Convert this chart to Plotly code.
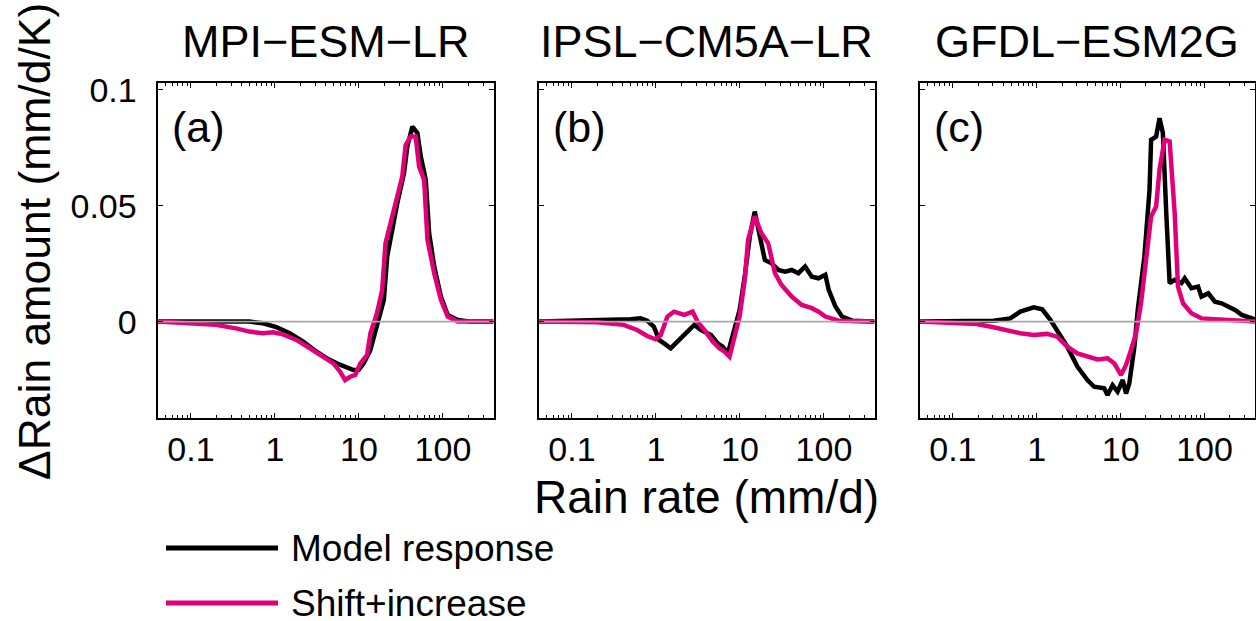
import math
import plotly.graph_objects as go

# ---------------- data (rain rate in mm/d, change in rain amount in mm/d/K) ----------------
titles = ["MPI\u2212ESM\u2212LR", "IPSL\u2212CM5A\u2212LR", "GFDL\u2212ESM2G"]
panel_labels = ["(a)", "(b)", "(c)"]
series_names = ["Model response", "Shift+increase"]

rate_a_model = [0.04, 0.2, 0.5, 0.72, 1.04, 1.5, 2.17, 3.13, 4.13, 5.44, 7.18, 8.63, 9.91, 11.4, 13.7,
                16.4, 19.8, 21.7, 23.8, 28.6, 34.4, 37.7, 43.3, 49.7, 54.5, 62.5, 68.5, 78.7, 94.6, 114,
                150, 217, 400]
amt_a_model = [0, 0, 0, -0.0007, -0.0024, -0.0050, -0.0086, -0.0130, -0.0158, -0.0180, -0.0199, -0.0209,
               -0.0209, -0.0180, -0.0122, -0.0022, 0.0094, 0.0281, 0.0367, 0.0511, 0.0641, 0.0756, 0.0842,
               0.0814, 0.0713, 0.0612, 0.0382, 0.0238, 0.0108, 0.0029, 0.0007, 0, 0]

rate_a_shift = [0.04, 0.198, 0.344, 0.497, 0.718, 0.946, 1.25, 1.80, 2.61, 3.77, 4.97, 5.97, 6.85, 7.87,
                9.04, 10.4, 12.5, 13.7, 16.4, 18.9, 20.7, 23.8, 28.6, 32.8, 36.0, 41.3, 47.4, 52.0, 59.7,
                65.5, 78.7, 94.6, 114, 150, 400]
amt_a_shift = [0, -0.0014, -0.0029, -0.0043, -0.0050, -0.0046, -0.0055, -0.0079, -0.0115, -0.0151, -0.0180,
               -0.0216, -0.0252, -0.0238, -0.0230, -0.0180, -0.0144, -0.0050, 0.0036, 0.0137, 0.0338, 0.0425,
               0.0540, 0.0626, 0.0763, 0.0799, 0.0799, 0.0670, 0.0612, 0.0353, 0.0209, 0.0094, 0.0022, 0, 0]

rate_b_model = [0.04, 0.2, 0.5, 0.655, 0.787, 0.946, 1.09, 1.25, 1.50, 1.80, 2.38, 2.86, 3.44, 4.53, 5.44,
                6.25, 7.18, 8.63, 9.91, 11.4, 13.1, 15.0, 16.4, 18.0, 19.8, 23.8, 28.6, 34.4, 41.3, 49.7,
                59.7, 71.8, 86.3, 104, 114, 137, 164, 217, 400]
amt_b_model = [0, 0.0004, 0.0010, 0.0014, 0.0004, -0.0022, -0.0079, -0.0094, -0.0115, -0.0086, -0.0043,
               -0.0014, -0.0036, -0.0058, -0.0094, -0.0108, -0.0137, -0.0036, 0.0050, 0.0194, 0.0367, 0.0475,
               0.0410, 0.0353, 0.0266, 0.0252, 0.0223, 0.0216, 0.0223, 0.0209, 0.0238, 0.0194, 0.0187, 0.0202,
               0.0137, 0.0065, 0.0022, 0.0004, 0]

rate_b_shift = [0.04, 0.198, 0.413, 0.597, 0.787, 0.991, 1.14, 1.37, 1.64, 2.17, 2.73, 3.13, 3.77, 4.74,
                5.70, 6.55, 7.52, 9.04, 9.91, 11.4, 12.5, 15.0, 18.0, 21.7, 26.1, 31.3, 41.3, 54.5, 71.8,
                86.3, 104, 150, 400]
amt_b_shift = [0, -0.0003, -0.0014, -0.0036, -0.0062, -0.0076, -0.0058, 0.0022, 0.0043, 0.0029, 0.0043, 0,
               -0.0036, -0.0086, -0.0115, -0.0130, -0.0151, -0.0029, 0.0022, 0.0180, 0.0353, 0.0454, 0.0382,
               0.0338, 0.0209, 0.0158, 0.0108, 0.0072, 0.0058, 0.0043, 0.0022, 0.0004, 0]

rate_c_model = [0.04, 0.305, 0.483, 0.637, 0.920, 1.16, 1.46, 1.75, 2.31, 3.05, 4.02, 4.83, 6.37, 6.98,
                8.02, 9.20, 10.6, 11.6, 12.7, 14.6, 16.0, 19.2, 22.1, 23.1, 26.5, 29.1, 31.9, 35.0, 38.4,
                44.1, 53.0, 58.1, 69.8, 83.9, 92.0, 111, 133, 160, 192, 231, 278, 334, 400]
amt_c_model = [0, 0.0004, 0.0014, 0.0043, 0.0062, 0.0053, 0.0007, -0.0036, -0.0108, -0.0194, -0.0252,
               -0.0281, -0.0288, -0.0317, -0.0274, -0.0302, -0.0252, -0.0310, -0.0266, -0.0108, 0.0050,
               0.0281, 0.0569, 0.0785, 0.0799, 0.0878, 0.0814, 0.0468, 0.0166, 0.0180, 0.0166, 0.0187,
               0.0144, 0.0151, 0.0108, 0.0122, 0.0086, 0.0079, 0.0065, 0.0050, 0.0029, 0.0019, 0.0010]

rate_c_shift = [0.04, 0.192, 0.305, 0.441, 0.637, 0.920, 1.33, 1.75, 2.31, 3.05, 4.02, 5.30, 6.98, 8.39,
                10.1, 11.6, 13.3, 15.3, 17.5, 20.1, 23.1, 26.5, 29.1, 33.4, 38.4, 44.1, 48.3, 55.5, 69.8,
                92.0, 150, 231, 400]
amt_c_shift = [0, -0.0010, -0.0024, -0.0039, -0.0050, -0.0058, -0.0053, -0.0065, -0.0108, -0.0137, -0.0151,
               -0.0163, -0.0158, -0.0180, -0.0230, -0.0187, -0.0122, -0.0050, 0.0079, 0.0252, 0.0454,
               0.0497, 0.0655, 0.0785, 0.0778, 0.0468, 0.0151, 0.0079, 0.0036, 0.0014, 0.0010, 0.0004, 0]

x_tick_vals = [0.1, 1, 10, 100]
x_tick_text = ["0.1", "1", "10", "100"]
y_tick_vals = [0, 0.05, 0.1]
y_tick_text = ["0", "0.05", "0.1"]

model_series = [(rate_a_model, amt_a_model), (rate_b_model, amt_b_model), (rate_c_model, amt_c_model)]
shift_series = [(rate_a_shift, amt_a_shift), (rate_b_shift, amt_b_shift), (rate_c_shift, amt_c_shift)]

# ---------------- layout / style ----------------
W, H = 1256, 621
FONT = "Liberation Sans, Arial, Helvetica, sans-serif"
BLACK = "#000000"
MAGENTA = "#e2007a"
GREY = "#a8a8a8"
X_RANGE = [0.04, 400]
Y_RANGE = [-0.0416, 0.1030]

panel_px = [(157.5, 493.5), (538.5, 874.5), (919.5, 1255.0)]
top_px, bot_px = 83.0, 418.0

def px(x):
    return x / W

def py(y):
    return 1 - y / H

minor_vals = [m * 10 ** k for k in range(-2, 3) for m in range(2, 10)
              if X_RANGE[0] <= m * 10 ** k <= X_RANGE[1]]

fig = go.Figure()
annotations = []
for i in range(3):
    xa = "x" if i == 0 else f"x{i+1}"
    ya = "y" if i == 0 else f"y{i+1}"
    mx, my = model_series[i]
    sx, sy = shift_series[i]
    fig.add_trace(go.Scatter(x=mx, y=my, mode="lines", xaxis=xa, yaxis=ya,
                             line=dict(color=BLACK, width=4.5), name=series_names[0], showlegend=False))
    fig.add_trace(go.Scatter(x=sx, y=sy, mode="lines", xaxis=xa, yaxis=ya,
                             line=dict(color=MAGENTA, width=4.5), name=series_names[1], showlegend=False))
    fig.add_trace(go.Scatter(x=X_RANGE, y=[0, 0], mode="lines", xaxis=xa, yaxis=ya,
                             line=dict(color=GREY, width=1.6), hoverinfo="skip", showlegend=False))

    l, r = panel_px[i]
    xkey = "xaxis" if i == 0 else f"xaxis{i+1}"
    ykey = "yaxis" if i == 0 else f"yaxis{i+1}"
    fig.update_layout(**{
        xkey: dict(domain=[px(l), px(r)], anchor=ya, type="log", automargin=False,
                   range=[math.log10(X_RANGE[0]), math.log10(X_RANGE[1])],
                   showline=True, linecolor=BLACK, linewidth=2, mirror="ticks",
                   ticks="inside", ticklen=5, tickwidth=1.3, tickcolor=BLACK,
                   tickvals=x_tick_vals, ticktext=x_tick_text,
                   minor=dict(tickvals=minor_vals, ticks="inside", ticklen=3, tickwidth=1, tickcolor=BLACK,
                              showgrid=False),
                   showgrid=False, zeroline=False, ticklabelstandoff=0,
                   tickfont=dict(family=FONT, size=34, color=BLACK)),
        ykey: dict(domain=[py(bot_px), py(top_px)], anchor=xa, range=Y_RANGE, automargin=False,
                   showline=True, linecolor=BLACK, linewidth=2, mirror="ticks",
                   ticks="inside", ticklen=5, tickwidth=1.3, tickcolor=BLACK,
                   tickvals=y_tick_vals, ticktext=y_tick_text, showticklabels=(i == 0),
                   showgrid=False, zeroline=False, ticklabelstandoff=12,
                   tickfont=dict(family=FONT, size=34, color=BLACK)),
    })
    annotations.append(dict(text=titles[i], x=px((l + r) / 2), y=py(42), xref="paper", yref="paper",
                            xanchor="center", yanchor="middle", showarrow=False,
                            font=dict(family=FONT, size=45, color=BLACK)))
    annotations.append(dict(text=panel_labels[i], x=px(l + 12), y=py(127), xref="paper", yref="paper",
                            xanchor="left", yanchor="middle", showarrow=False,
                            font=dict(family=FONT, size=43, color=BLACK)))

# axis titles
annotations.append(dict(text="Rain rate (mm/d)", x=px(706), y=py(497), xref="paper", yref="paper",
                        xanchor="center", yanchor="middle", showarrow=False,
                        font=dict(family=FONT, size=46, color=BLACK)))
annotations.append(dict(text="\u0394Rain amount (mm/d/K)", x=px(35), y=py(242), xref="paper", yref="paper",
                        xanchor="center", yanchor="middle", showarrow=False, textangle=-90,
                        font=dict(family=FONT, size=44.5, color=BLACK)))

# legend (drawn as key lines + labels)
shapes = []
for name, color, yy in [(series_names[0], BLACK, 548), (series_names[1], MAGENTA, 603)]:
    shapes.append(dict(type="line", xref="paper", yref="paper", x0=px(166), x1=px(278), y0=py(yy), y1=py(yy),
                       line=dict(color=color, width=5)))
    annotations.append(dict(text=name, x=px(289), y=py(yy), xref="paper", yref="paper",
                            xanchor="left", yanchor="middle", showarrow=False,
                            font=dict(family=FONT, size=37, color=BLACK)))

fig.update_layout(width=W, height=H, margin=dict(l=0, r=0, t=0, b=0, pad=0, autoexpand=False),
                  paper_bgcolor="white", plot_bgcolor="white",
                  annotations=annotations, shapes=shapes, showlegend=False)

fig.write_html("out.html", config={"displayModeBar": False})
